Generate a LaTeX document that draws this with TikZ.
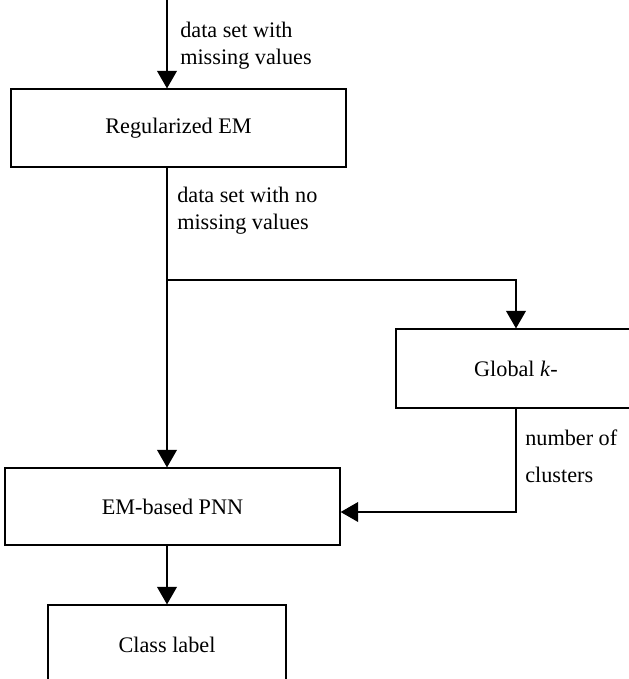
\documentclass[tikz,border=0pt]{standalone}
\usepackage{fontspec}
\setmainfont{Liberation Serif}
\usepackage{tikz}
\usetikzlibrary{arrows.meta,positioning,calc}

\begin{document}
\begin{tikzpicture}[
    x=0.025cm, y=-0.025cm,
    box/.style={draw, line width=0.8pt, inner sep=0pt, align=center},
    arr/.style={-{Triangle[length=12.5pt, width=14pt]}, line width=1.3pt},
    lbl/.style={anchor=west, inner sep=0pt, align=left},
    every node/.append style={font=\fontsize{15.8}{19}\selectfont},
  ]

  % page frame
  \clip (0,0) rectangle (629,679);

  % boxes
  \node[box, minimum width=8.375cm, minimum height=1.95cm] (regem)
    at (178.5,128) {Regularized EM};
  \node[box, minimum width=6cm, minimum height=1.975cm] (glob)
    at (516,368.5) {Global \textit{k}-};
  \node[box, minimum width=8.375cm, minimum height=1.925cm] (pnn)
    at (172.5,506.5) {EM-based PNN};
  \node[box, minimum width=5.95cm, minimum height=2cm] (cls)
    at (167,645) {Class label};

  % labels
  \node[lbl] (lblin) at (180,46) {data set with\\missing values};
  \node[lbl] (lblfull) at (177,211) {data set with no\\missing values};
  \node[lbl, font=\fontsize{15.8}{26.3}\selectfont] (lblnum)
    at (525,456) {number of\\clusters};

  % connectors
  \coordinate (src) at (167,0);
  \coordinate (split) at (167,280);
  \coordinate (turn) at (516,512);

  \draw[arr] (src) -- (src |- regem.north);
  \draw[arr] (src |- regem.south) -- (src |- pnn.north);
  \draw[arr] (split) -| (glob.north);
  \draw[arr] (glob.south) -- (turn) -- (turn -| pnn.east);
  \draw[arr] (src |- pnn.south) -- (src |- cls.north);

\end{tikzpicture}
\end{document}
